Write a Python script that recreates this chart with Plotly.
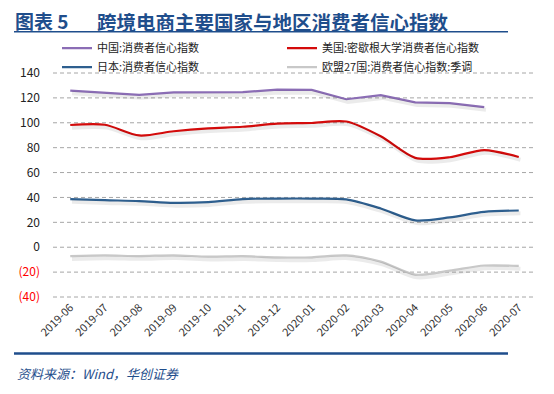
import plotly.graph_objects as go

months = ["2019-06", "2019-07", "2019-08", "2019-09", "2019-10", "2019-11", "2019-12",
          "2020-01", "2020-02", "2020-03", "2020-04", "2020-05", "2020-06", "2020-07"]
china = [125.9, 124.4, 122.4, 124.5, 124.3, 124.6, 126.6, 126.4, 118.9, 122.2, 116.4, 115.8, 112.6, None]
usa = [98.2, 98.4, 89.8, 93.2, 95.5, 96.8, 99.3, 99.8, 101.0, 89.1, 71.8, 72.3, 78.1, 72.5]
japan = [38.7, 37.8, 37.1, 35.6, 36.2, 38.7, 39.1, 39.1, 38.4, 31.1, 21.6, 24.0, 28.4, 29.5]
eu27 = [-7.2, -6.6, -7.1, -6.5, -7.6, -7.2, -8.1, -8.1, -6.6, -11.6, -22.0, -18.8, -14.7, -15.0]

names = ["中国:消费者信心指数", "美国:密歇根大学消费者信心指数",
         "日本:消费者信心指数", "欧盟27国:消费者信心指数:季调"]
colors = ["#8B6DB5", "#D40B0B", "#2E5F8F", "#C8C8C8"]
shapes_ = ["linear", "spline", "spline", "spline"]
series = [china, usa, japan, eu27]

ytick_vals = [-40, -20, 0, 20, 40, 60, 80, 100, 120, 140]
ytick_text = ["<span style='color:#FF0000'>(40)</span>", "<span style='color:#FF0000'>(20)</span>",
              "0", "20", "40", "60", "80", "100", "120", "140"]

fig = go.Figure()
# soft shadows drawn on an offset overlay axis
for s, sh in zip(series, shapes_):
    fig.add_trace(go.Scatter(x=months, y=s, mode="lines", xaxis="x2", yaxis="y2",
                             line=dict(color="rgba(0,0,0,0.08)", width=4, shape=sh, smoothing=0.8),
                             showlegend=False, hoverinfo="skip", connectgaps=False))
for s, n, c, sh in zip(series, names, colors, shapes_):
    fig.add_trace(go.Scatter(x=months, y=s, mode="lines", name=n,
                             line=dict(color=c, width=2.2, shape=sh, smoothing=0.8)))

# the page body has an 8px default margin: build the figure 8px smaller and shift
OFF = 8
W, H = 554 - OFF, 394 - OFF
PL, PR, PT, PB = 53 - OFF, 536 - OFF, 73 - OFF, 297 - OFF
def px_x(x):
    return (x - OFF - PL) / (PR - PL)
def px_y(y):
    return (PB - (y - OFF)) / (PB - PT)

grid_shapes = [dict(type="line", xref="paper", yref="y", x0=0, x1=1, y0=v, y1=v, layer="below",
                    line=dict(color="#A6A6A6", width=1, dash="4px,3px"))
               for v in ytick_vals]

fig.update_layout(
    width=W, height=H,
    margin=dict(l=PL, r=W - PR, t=PT - 1, b=H - PB - 1),
    paper_bgcolor="white", plot_bgcolor="white",
    font=dict(family="Noto Sans CJK SC", size=11, color="#222222"),
    xaxis=dict(type="category", tickangle=-45, showgrid=False, showline=False, ticks="",
               tickfont=dict(size=11, color="#333333"), range=[-0.5, 13.5]),
    xaxis2=dict(type="category", overlaying="x", range=[-0.55, 13.45], visible=False),
    yaxis=dict(range=[-40.8, 140.8], tickvals=ytick_vals, ticktext=ytick_text, showgrid=False,
               zeroline=False, showline=False, ticks="",
               tickfont=dict(size=12, color="#222222"), ticklabelstandoff=12),
    yaxis2=dict(range=[-38.6, 143.0], overlaying="y", visible=False, showgrid=False),
    legend=dict(orientation="h", x=px_x(57), xanchor="left", y=px_y(35), yanchor="top",
                entrywidth=180, entrywidthmode="pixels", font=dict(size=11, color="#222222"),
                bgcolor="rgba(0,0,0,0)", tracegroupgap=0, itemwidth=30),
    showlegend=True,
    shapes=grid_shapes + [
        dict(type="line", xref="paper", yref="paper", x0=px_x(14), x1=px_x(508),
             y0=px_y(33), y1=px_y(33), line=dict(color="#1F4E8C", width=1.5)),
        dict(type="line", xref="paper", yref="paper", x0=px_x(14), x1=px_x(508),
             y0=px_y(352), y1=px_y(352), line=dict(color="#1F4E8C", width=2.5)),
    ],
    annotations=[
        dict(text="<b>图表 5</b>", xref="paper", yref="paper",
             x=px_x(14), y=px_y(8), xanchor="left", yanchor="top", showarrow=False,
             borderpad=0, font=dict(family="Noto Sans CJK SC", size=19, color="#1F4E8C")),
        dict(text="<b>跨境电商主要国家与地区消费者信心指数</b>", xref="paper", yref="paper",
             x=px_x(96), y=px_y(8), xanchor="left", yanchor="top", showarrow=False,
             borderpad=0, font=dict(family="Noto Sans CJK SC", size=19.5, color="#1F4E8C")),
        dict(text="<i>资料来源：Wind，华创证券</i>", xref="paper", yref="paper",
             x=px_x(15), y=px_y(372), xanchor="left", yanchor="middle", showarrow=False,
             font=dict(family="Noto Sans CJK SC", size=13, color="#1F4E8C")),
    ],
)

fig.write_html("out.html")
